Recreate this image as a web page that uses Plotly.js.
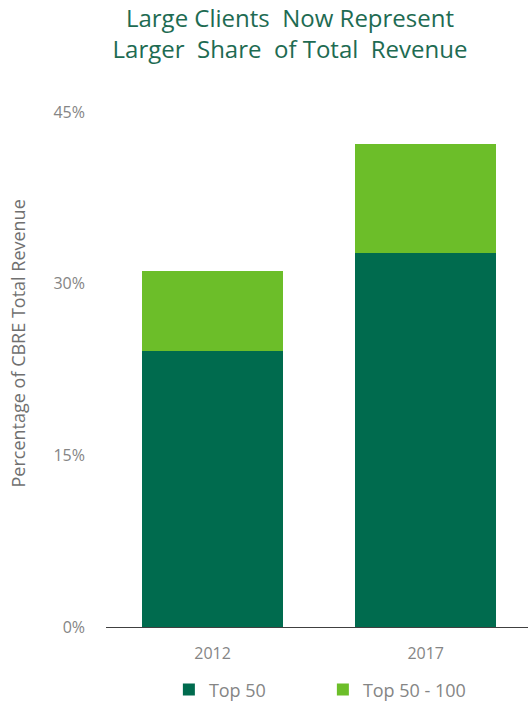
<!DOCTYPE html>
<html><head><meta charset="utf-8">
<script src="https://cdn.plot.ly/plotly-3.0.1.min.js"></script>
<style>html,body{margin:0;padding:0;background:#fff;}#chart{width:528px;height:709px;}</style>
</head><body><div id="chart"></div>
<script>
const categories = ['2012', '2017'];
const top50 = [24.1, 32.7];
const top50to100 = [7.0, 9.5];
const seriesNames = ['Top 50', 'Top 50 - 100'];
const yTickVals = [0, 15, 30, 45];
const yTickText = ['0%', '15%', '30%', '45%'];

const font = 'Open Sans, DejaVu Sans, sans-serif';
const data = [
  {type: 'bar', x: categories, y: top50, name: seriesNames[0], marker: {color: '#006b4e'}, hoverinfo: 'skip'},
  {type: 'bar', x: categories, y: top50to100, name: seriesNames[1], marker: {color: '#6cbe29'}, hoverinfo: 'skip'}
];
const layout = {
  width: 528, height: 709,
  margin: {l: 106, r: 0, t: 112, b: 82},
  barmode: 'stack', bargap: 0.338,
  paper_bgcolor: '#fff', plot_bgcolor: '#fff',
  font: {family: font, color: '#858585', size: 16},
  title: {text: 'Large Clients  Now Represent<br>Larger  Share  of Total  Revenue', font: {family: font, size: 24, color: '#1e6b52'},
          xref: 'paper', x: 0.436, xanchor: 'center', yref: 'container', y: 0.962, yanchor: 'top'},
  xaxis: {type: 'category', range: [-0.5, 1.48], showgrid: false, zeroline: false, showline: true, linecolor: '#404040', linewidth: 1,
          ticks: '', ticklabelstandoff: 12, tickfont: {size: 16, color: '#858585'}, fixedrange: true},
  yaxis: {range: [0, 45], tickvals: yTickVals, ticktext: yTickText, showgrid: false, zeroline: false, showline: false,
          ticks: '', ticklabelstandoff: 20, tickfont: {size: 16, color: '#858585'}, fixedrange: true},
  showlegend: true,
  legend: {orientation: 'h', x: 0.149, xanchor: 'left', y: -0.122, yanchor: 'middle', font: {size: 18, color: '#858585'},
           traceorder: 'normal', entrywidth: 109, entrywidthmode: 'pixels'},
  annotations: [{text: 'Percentage of CBRE Total Revenue', textangle: -90, xref: 'paper', yref: 'paper', x: -0.208, y: 0.551,
                 xanchor: 'center', yanchor: 'middle', showarrow: false, font: {family: font, size: 18, color: '#707070'}}]
};
Plotly.newPlot('chart', data, layout, {displayModeBar: false, staticPlot: true});
</script></body></html>
